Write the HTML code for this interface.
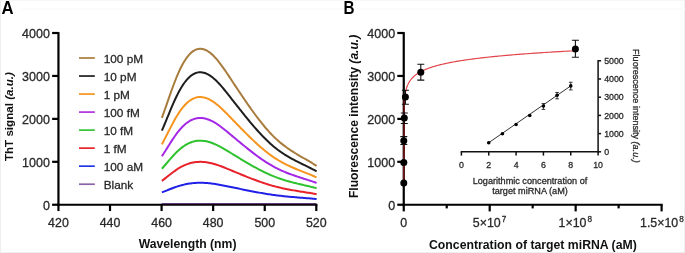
<!DOCTYPE html>
<html><head><meta charset="utf-8"><style>
html,body{margin:0;padding:0;background:#fff;}
body{width:685px;height:253px;overflow:hidden;}
svg{display:block;will-change:transform;}
.t{stroke:#2a2a2a;stroke-width:0.28px;}
</style></head><body>
<svg width="685" height="253" viewBox="0 0 685 253" font-family="Liberation Sans, sans-serif">
<rect x="0" y="0" width="685" height="253" fill="#fff"/>
<rect x="0" y="0" width="1" height="253" fill="#eeeeee"/>
<rect x="684" y="0" width="1" height="253" fill="#eeeeee"/>
<rect x="0" y="252" width="685" height="1" fill="#eeeeee"/>
<rect x="0" y="0" width="685" height="1" fill="#f6f6f6"/>
<rect x="22" y="8" width="663" height="2" fill="#fbfbfb"/>
<polyline points="161.89,117.85 163.19,114.23 164.50,110.54 165.80,106.82 167.11,103.07 168.41,99.31 169.72,95.58 171.02,91.90 172.33,88.27 173.63,84.74 174.94,81.31 176.24,78.00 177.55,74.85 178.85,71.87 180.15,69.07 181.46,66.45 182.76,64.02 184.07,61.78 185.37,59.71 186.67,57.83 187.98,56.12 189.28,54.60 190.58,53.25 191.88,52.09 193.18,51.10 194.49,50.29 195.79,49.65 197.09,49.19 198.39,48.89 199.69,48.75 200.99,48.77 202.29,48.93 203.59,49.24 204.89,49.69 206.19,50.28 207.49,50.99 208.79,51.83 210.09,52.79 211.38,53.86 212.68,55.04 213.98,56.33 215.28,57.71 216.57,59.17 217.87,60.72 219.17,62.35 220.46,64.03 221.76,65.78 223.05,67.58 224.34,69.42 225.64,71.30 226.93,73.21 228.23,75.14 229.52,77.08 230.81,79.03 232.10,80.98 233.39,82.93 234.68,84.88 235.98,86.82 237.27,88.76 238.56,90.70 239.84,92.62 241.13,94.54 242.42,96.45 243.71,98.35 245.00,100.24 246.29,102.12 247.57,103.98 248.86,105.82 250.15,107.65 251.43,109.46 252.72,111.24 254.00,113.01 255.29,114.76 256.57,116.48 257.85,118.18 259.14,119.85 260.42,121.49 261.70,123.11 262.99,124.69 264.27,126.25 265.55,127.77 266.83,129.26 268.11,130.71 269.39,132.13 270.67,133.51 271.95,134.85 273.23,136.16 274.51,137.42 275.79,138.63 277.07,139.81 278.35,140.95 279.62,142.05 280.90,143.11 282.18,144.14 283.46,145.14 284.73,146.11 286.01,147.05 287.29,147.96 288.56,148.85 289.84,149.71 291.12,150.56 292.39,151.38 293.67,152.19 294.94,152.98 296.22,153.76 297.49,154.53 298.77,155.29 300.04,156.04 301.31,156.78 302.59,157.52 303.86,158.26 305.14,158.99 306.41,159.73 307.68,160.47 308.96,161.21 310.23,161.97 311.51,162.73 312.78,163.50 314.05,164.28 315.33,165.08 316.60,165.89" fill="none" stroke="#a87c3c" stroke-width="2" stroke-linejoin="round"/>
<polyline points="161.89,130.68 163.19,127.62 164.50,124.51 165.80,121.35 167.11,118.18 168.41,115.01 169.72,111.86 171.02,108.74 172.33,105.68 173.63,102.69 174.94,99.78 176.24,96.99 177.55,94.32 178.85,91.80 180.15,89.44 181.46,87.23 182.76,85.17 184.07,83.27 185.37,81.52 186.67,79.93 187.98,78.49 189.28,77.20 190.58,76.07 191.88,75.08 193.18,74.24 194.49,73.56 195.79,73.02 197.09,72.63 198.39,72.37 199.69,72.26 200.99,72.27 202.29,72.41 203.59,72.67 204.89,73.06 206.19,73.55 207.49,74.15 208.79,74.86 210.09,75.67 211.38,76.58 212.68,77.58 213.98,78.66 215.28,79.83 216.57,81.07 217.87,82.38 219.17,83.75 220.46,85.18 221.76,86.66 223.05,88.18 224.34,89.74 225.64,91.32 226.93,92.94 228.23,94.57 229.52,96.21 230.81,97.86 232.10,99.51 233.39,101.16 234.68,102.80 235.98,104.45 237.27,106.09 238.56,107.73 239.84,109.36 241.13,110.98 242.42,112.59 243.71,114.20 245.00,115.80 246.29,117.38 247.57,118.95 248.86,120.51 250.15,122.06 251.43,123.59 252.72,125.10 254.00,126.59 255.29,128.07 256.57,129.53 257.85,130.96 259.14,132.37 260.42,133.77 261.70,135.13 262.99,136.47 264.27,137.79 265.55,139.07 266.83,140.33 268.11,141.56 269.39,142.76 270.67,143.93 271.95,145.06 273.23,146.16 274.51,147.23 275.79,148.26 277.07,149.25 278.35,150.21 279.62,151.14 280.90,152.04 282.18,152.91 283.46,153.76 284.73,154.58 286.01,155.37 287.29,156.14 288.56,156.89 289.84,157.63 291.12,158.34 292.39,159.04 293.67,159.72 294.94,160.39 296.22,161.05 297.49,161.70 298.77,162.34 300.04,162.97 301.31,163.60 302.59,164.23 303.86,164.85 305.14,165.47 306.41,166.10 307.68,166.72 308.96,167.35 310.23,167.99 311.51,168.63 312.78,169.28 314.05,169.94 315.33,170.62 316.60,171.30" fill="none" stroke="#1e1e1e" stroke-width="2" stroke-linejoin="round"/>
<polyline points="161.89,144.41 163.19,141.93 164.50,139.40 165.80,136.85 167.11,134.28 168.41,131.70 169.72,129.15 171.02,126.62 172.33,124.13 173.63,121.71 174.94,119.35 176.24,117.09 177.55,114.93 178.85,112.88 180.15,110.96 181.46,109.17 182.76,107.50 184.07,105.96 185.37,104.54 186.67,103.25 187.98,102.08 189.28,101.04 190.58,100.12 191.88,99.32 193.18,98.64 194.49,98.08 195.79,97.65 197.09,97.33 198.39,97.12 199.69,97.03 200.99,97.04 202.29,97.15 203.59,97.37 204.89,97.68 206.19,98.08 207.49,98.57 208.79,99.14 210.09,99.80 211.38,100.53 212.68,101.34 213.98,102.22 215.28,103.17 216.57,104.18 217.87,105.24 219.17,106.35 220.46,107.51 221.76,108.71 223.05,109.94 224.34,111.20 225.64,112.49 226.93,113.80 228.23,115.12 229.52,116.46 230.81,117.79 232.10,119.13 233.39,120.47 234.68,121.80 235.98,123.14 237.27,124.47 238.56,125.79 239.84,127.12 241.13,128.43 242.42,129.74 243.71,131.05 245.00,132.34 246.29,133.62 247.57,134.90 248.86,136.16 250.15,137.42 251.43,138.66 252.72,139.88 254.00,141.10 255.29,142.29 256.57,143.48 257.85,144.64 259.14,145.79 260.42,146.91 261.70,148.02 262.99,149.11 264.27,150.17 265.55,151.22 266.83,152.24 268.11,153.24 269.39,154.21 270.67,155.16 271.95,156.08 273.23,156.97 274.51,157.83 275.79,158.67 277.07,159.47 278.35,160.25 279.62,161.01 280.90,161.74 282.18,162.44 283.46,163.13 284.73,163.79 286.01,164.44 287.29,165.06 288.56,165.67 289.84,166.27 291.12,166.84 292.39,167.41 293.67,167.96 294.94,168.51 296.22,169.04 297.49,169.57 298.77,170.09 300.04,170.60 301.31,171.11 302.59,171.62 303.86,172.12 305.14,172.63 306.41,173.13 307.68,173.64 308.96,174.15 310.23,174.67 311.51,175.19 312.78,175.72 314.05,176.25 315.33,176.80 316.60,177.36" fill="none" stroke="#f7941d" stroke-width="2" stroke-linejoin="round"/>
<polyline points="161.89,156.29 163.19,154.29 164.50,152.24 165.80,150.18 167.11,148.10 168.41,146.02 169.72,143.95 171.02,141.91 172.33,139.90 173.63,137.94 174.94,136.04 176.24,134.21 177.55,132.46 178.85,130.81 180.15,129.26 181.46,127.81 182.76,126.46 184.07,125.21 185.37,124.07 186.67,123.03 187.98,122.08 189.28,121.24 190.58,120.49 191.88,119.85 193.18,119.30 194.49,118.85 195.79,118.50 197.09,118.24 198.39,118.07 199.69,118.00 200.99,118.00 202.29,118.10 203.59,118.27 204.89,118.52 206.19,118.84 207.49,119.24 208.79,119.70 210.09,120.24 211.38,120.83 212.68,121.48 213.98,122.19 215.28,122.96 216.57,123.77 217.87,124.63 219.17,125.53 220.46,126.47 221.76,127.43 223.05,128.43 224.34,129.45 225.64,130.49 226.93,131.55 228.23,132.62 229.52,133.70 230.81,134.78 232.10,135.86 233.39,136.94 234.68,138.02 235.98,139.10 237.27,140.17 238.56,141.24 239.84,142.31 241.13,143.38 242.42,144.43 243.71,145.49 245.00,146.53 246.29,147.57 247.57,148.60 248.86,149.62 250.15,150.64 251.43,151.64 252.72,152.63 254.00,153.61 255.29,154.58 256.57,155.53 257.85,156.47 259.14,157.40 260.42,158.31 261.70,159.21 262.99,160.09 264.27,160.95 265.55,161.79 266.83,162.62 268.11,163.42 269.39,164.21 270.67,164.97 271.95,165.72 273.23,166.44 274.51,167.14 275.79,167.81 277.07,168.46 278.35,169.09 279.62,169.70 280.90,170.29 282.18,170.86 283.46,171.42 284.73,171.95 286.01,172.47 287.29,172.98 288.56,173.47 289.84,173.95 291.12,174.42 292.39,174.88 293.67,175.32 294.94,175.76 296.22,176.20 297.49,176.62 298.77,177.04 300.04,177.46 301.31,177.87 302.59,178.28 303.86,178.69 305.14,179.09 306.41,179.50 307.68,179.91 308.96,180.33 310.23,180.74 311.51,181.16 312.78,181.59 314.05,182.02 315.33,182.47 316.60,182.92" fill="none" stroke="#a428e6" stroke-width="2" stroke-linejoin="round"/>
<polyline points="161.89,168.73 163.19,167.26 164.50,165.77 165.80,164.25 167.11,162.73 168.41,161.21 169.72,159.70 171.02,158.20 172.33,156.73 173.63,155.29 174.94,153.90 176.24,152.56 177.55,151.28 178.85,150.07 180.15,148.93 181.46,147.87 182.76,146.88 184.07,145.97 185.37,145.13 186.67,144.37 187.98,143.68 189.28,143.06 190.58,142.51 191.88,142.04 193.18,141.64 194.49,141.31 195.79,141.05 197.09,140.86 198.39,140.74 199.69,140.68 200.99,140.69 202.29,140.76 203.59,140.88 204.89,141.07 206.19,141.30 207.49,141.59 208.79,141.94 210.09,142.32 211.38,142.76 212.68,143.24 213.98,143.76 215.28,144.32 216.57,144.92 217.87,145.54 219.17,146.20 220.46,146.89 221.76,147.60 223.05,148.33 224.34,149.08 225.64,149.84 226.93,150.61 228.23,151.40 229.52,152.18 230.81,152.98 232.10,153.77 233.39,154.56 234.68,155.35 235.98,156.14 237.27,156.93 238.56,157.71 239.84,158.49 241.13,159.27 242.42,160.05 243.71,160.82 245.00,161.59 246.29,162.35 247.57,163.10 248.86,163.85 250.15,164.59 251.43,165.33 252.72,166.05 254.00,166.77 255.29,167.48 256.57,168.18 257.85,168.87 259.14,169.55 260.42,170.21 261.70,170.87 262.99,171.51 264.27,172.14 265.55,172.76 266.83,173.37 268.11,173.96 269.39,174.53 270.67,175.09 271.95,175.64 273.23,176.16 274.51,176.68 275.79,177.17 277.07,177.65 278.35,178.11 279.62,178.56 280.90,178.99 282.18,179.41 283.46,179.81 284.73,180.20 286.01,180.59 287.29,180.96 288.56,181.32 289.84,181.67 291.12,182.01 292.39,182.35 293.67,182.67 294.94,183.00 296.22,183.31 297.49,183.62 298.77,183.93 300.04,184.24 301.31,184.54 302.59,184.84 303.86,185.14 305.14,185.43 306.41,185.73 307.68,186.03 308.96,186.34 310.23,186.64 311.51,186.95 312.78,187.26 314.05,187.58 315.33,187.90 316.60,188.23" fill="none" stroke="#2ec22e" stroke-width="2" stroke-linejoin="round"/>
<polyline points="161.89,180.90 163.19,179.90 164.50,178.88 165.80,177.85 167.11,176.82 168.41,175.78 169.72,174.76 171.02,173.74 172.33,172.74 173.63,171.76 174.94,170.82 176.24,169.91 177.55,169.04 178.85,168.21 180.15,167.44 181.46,166.72 182.76,166.05 184.07,165.43 185.37,164.86 186.67,164.34 187.98,163.87 189.28,163.45 190.58,163.08 191.88,162.76 193.18,162.49 194.49,162.26 195.79,162.09 197.09,161.96 198.39,161.88 199.69,161.84 200.99,161.84 202.29,161.89 203.59,161.97 204.89,162.10 206.19,162.26 207.49,162.46 208.79,162.69 210.09,162.95 211.38,163.25 212.68,163.57 213.98,163.93 215.28,164.31 216.57,164.71 217.87,165.14 219.17,165.59 220.46,166.05 221.76,166.54 223.05,167.03 224.34,167.54 225.64,168.06 226.93,168.58 228.23,169.12 229.52,169.65 230.81,170.19 232.10,170.73 233.39,171.27 234.68,171.80 235.98,172.34 237.27,172.87 238.56,173.41 239.84,173.94 241.13,174.47 242.42,175.00 243.71,175.52 245.00,176.04 246.29,176.56 247.57,177.07 248.86,177.58 250.15,178.08 251.43,178.58 252.72,179.08 254.00,179.56 255.29,180.04 256.57,180.52 257.85,180.99 259.14,181.45 260.42,181.90 261.70,182.35 262.99,182.79 264.27,183.21 265.55,183.63 266.83,184.04 268.11,184.45 269.39,184.84 270.67,185.22 271.95,185.59 273.23,185.95 274.51,186.29 275.79,186.63 277.07,186.95 278.35,187.27 279.62,187.57 280.90,187.86 282.18,188.15 283.46,188.42 284.73,188.69 286.01,188.95 287.29,189.20 288.56,189.45 289.84,189.69 291.12,189.92 292.39,190.15 293.67,190.37 294.94,190.59 296.22,190.80 297.49,191.01 298.77,191.22 300.04,191.43 301.31,191.64 302.59,191.84 303.86,192.04 305.14,192.25 306.41,192.45 307.68,192.65 308.96,192.86 310.23,193.07 311.51,193.28 312.78,193.49 314.05,193.70 315.33,193.92 316.60,194.15" fill="none" stroke="#e8222a" stroke-width="2" stroke-linejoin="round"/>
<polyline points="161.89,192.36 163.19,191.86 164.50,191.35 165.80,190.84 167.11,190.32 168.41,189.80 169.72,189.28 171.02,188.77 172.33,188.27 173.63,187.78 174.94,187.30 176.24,186.85 177.55,186.41 178.85,186.00 180.15,185.61 181.46,185.25 182.76,184.91 184.07,184.60 185.37,184.31 186.67,184.05 187.98,183.81 189.28,183.60 190.58,183.42 191.88,183.26 193.18,183.12 194.49,183.01 195.79,182.92 197.09,182.85 198.39,182.81 199.69,182.79 200.99,182.80 202.29,182.82 203.59,182.86 204.89,182.92 206.19,183.01 207.49,183.10 208.79,183.22 210.09,183.35 211.38,183.50 212.68,183.67 213.98,183.84 215.28,184.03 216.57,184.24 217.87,184.45 219.17,184.68 220.46,184.91 221.76,185.15 223.05,185.40 224.34,185.66 225.64,185.92 226.93,186.18 228.23,186.45 229.52,186.72 230.81,186.99 232.10,187.26 233.39,187.53 234.68,187.80 235.98,188.07 237.27,188.34 238.56,188.60 239.84,188.87 241.13,189.14 242.42,189.40 243.71,189.66 245.00,189.93 246.29,190.18 247.57,190.44 248.86,190.70 250.15,190.95 251.43,191.20 252.72,191.45 254.00,191.69 255.29,191.94 256.57,192.17 257.85,192.41 259.14,192.64 260.42,192.87 261.70,193.09 262.99,193.31 264.27,193.53 265.55,193.74 266.83,193.94 268.11,194.15 269.39,194.34 270.67,194.53 271.95,194.72 273.23,194.90 274.51,195.07 275.79,195.24 277.07,195.41 278.35,195.56 279.62,195.72 280.90,195.86 282.18,196.01 283.46,196.14 284.73,196.28 286.01,196.41 287.29,196.53 288.56,196.66 289.84,196.78 291.12,196.89 292.39,197.01 293.67,197.12 294.94,197.23 296.22,197.34 297.49,197.44 298.77,197.55 300.04,197.65 301.31,197.76 302.59,197.86 303.86,197.96 305.14,198.06 306.41,198.16 307.68,198.27 308.96,198.37 310.23,198.47 311.51,198.58 312.78,198.69 314.05,198.79 315.33,198.90 316.60,199.02" fill="none" stroke="#2020e6" stroke-width="2" stroke-linejoin="round"/>
<line x1="58.45" y1="32.10" x2="58.45" y2="205.75" stroke="#000" stroke-width="2.2"/>
<line x1="57.35" y1="204.75" x2="317.40" y2="204.75" stroke="#000" stroke-width="2.2"/>
<line x1="52.10" y1="204.75" x2="58.45" y2="204.75" stroke="#000" stroke-width="2.2"/>
<text x="49.85" y="209.95" font-size="12.5" text-anchor="end" fill="#262626" class="t">0</text>
<line x1="52.10" y1="161.81" x2="58.45" y2="161.81" stroke="#000" stroke-width="2.2"/>
<text x="49.85" y="167.01" font-size="12.5" text-anchor="end" fill="#262626" class="t">1000</text>
<line x1="52.10" y1="118.88" x2="58.45" y2="118.88" stroke="#000" stroke-width="2.2"/>
<text x="49.85" y="124.08" font-size="12.5" text-anchor="end" fill="#262626" class="t">2000</text>
<line x1="52.10" y1="75.94" x2="58.45" y2="75.94" stroke="#000" stroke-width="2.2"/>
<text x="49.85" y="81.14" font-size="12.5" text-anchor="end" fill="#262626" class="t">3000</text>
<line x1="52.10" y1="33.00" x2="58.45" y2="33.00" stroke="#000" stroke-width="2.2"/>
<text x="49.85" y="38.20" font-size="12.5" text-anchor="end" fill="#262626" class="t">4000</text>
<line x1="58.45" y1="204.75" x2="58.45" y2="211.05" stroke="#000" stroke-width="2.2"/>
<text x="58.45" y="226.8" font-size="12.4" text-anchor="middle" fill="#262626" class="t">420</text>
<line x1="110.02" y1="204.75" x2="110.02" y2="211.05" stroke="#000" stroke-width="2.2"/>
<text x="110.02" y="226.8" font-size="12.4" text-anchor="middle" fill="#262626" class="t">440</text>
<line x1="161.59" y1="204.75" x2="161.59" y2="211.05" stroke="#000" stroke-width="2.2"/>
<text x="161.59" y="226.8" font-size="12.4" text-anchor="middle" fill="#262626" class="t">460</text>
<line x1="213.16" y1="204.75" x2="213.16" y2="211.05" stroke="#000" stroke-width="2.2"/>
<text x="213.16" y="226.8" font-size="12.4" text-anchor="middle" fill="#262626" class="t">480</text>
<line x1="264.73" y1="204.75" x2="264.73" y2="211.05" stroke="#000" stroke-width="2.2"/>
<text x="264.73" y="226.8" font-size="12.4" text-anchor="middle" fill="#262626" class="t">500</text>
<line x1="316.30" y1="204.75" x2="316.30" y2="211.05" stroke="#000" stroke-width="2.2"/>
<text x="316.30" y="226.8" font-size="12.4" text-anchor="middle" fill="#262626" class="t">520</text>
<line x1="161.6" y1="203.7" x2="316.3" y2="203.7" stroke="#4a1a66" stroke-width="1.0"/>
<text x="187.6" y="248.4" font-size="12.2" font-weight="bold" text-anchor="middle" fill="#111">Wavelength (nm)</text>
<text transform="translate(12.6,116.6) rotate(-90)" font-size="11.6" font-weight="bold" text-anchor="middle" fill="#111">ThT signal <tspan font-style="italic">(a.u.)</tspan></text>
<text transform="translate(1.6,13.7) scale(0.9,1)" font-size="18.6" font-weight="bold" fill="#000">A</text>
<line x1="79" y1="58.00" x2="94.8" y2="58.00" stroke="#a87c3c" stroke-width="1.7"/>
<text x="103.7" y="62.70" font-size="11.8" fill="#262626" class="t">100 pM</text>
<line x1="79" y1="76.03" x2="94.8" y2="76.03" stroke="#1e1e1e" stroke-width="1.7"/>
<text x="103.7" y="80.73" font-size="11.8" fill="#262626" class="t">10 pM</text>
<line x1="79" y1="94.06" x2="94.8" y2="94.06" stroke="#f7941d" stroke-width="1.7"/>
<text x="103.7" y="98.76" font-size="11.8" fill="#262626" class="t">1 pM</text>
<line x1="79" y1="112.09" x2="94.8" y2="112.09" stroke="#b02fe0" stroke-width="1.7"/>
<text x="103.7" y="116.79" font-size="11.8" fill="#262626" class="t">100 fM</text>
<line x1="79" y1="130.12" x2="94.8" y2="130.12" stroke="#35c435" stroke-width="1.7"/>
<text x="103.7" y="134.82" font-size="11.8" fill="#262626" class="t">10 fM</text>
<line x1="79" y1="148.15" x2="94.8" y2="148.15" stroke="#e8262a" stroke-width="1.7"/>
<text x="103.7" y="152.85" font-size="11.8" fill="#262626" class="t">1 fM</text>
<line x1="79" y1="166.18" x2="94.8" y2="166.18" stroke="#2233e6" stroke-width="1.7"/>
<text x="103.7" y="170.88" font-size="11.8" fill="#262626" class="t">100 aM</text>
<line x1="79" y1="184.21" x2="94.8" y2="184.21" stroke="#8a64a8" stroke-width="1.7"/>
<text x="103.7" y="188.91" font-size="11.8" fill="#262626" class="t">Blank</text>
<text transform="translate(343.4,13.9) scale(0.82,1)" font-size="18.6" font-weight="bold" fill="#000">B</text>
<line x1="403.75" y1="32.10" x2="403.75" y2="205.75" stroke="#000" stroke-width="2.2"/>
<line x1="402.65" y1="204.75" x2="662.70" y2="204.75" stroke="#000" stroke-width="2.2"/>
<line x1="397.30" y1="204.75" x2="403.75" y2="204.75" stroke="#000" stroke-width="2.2"/>
<text x="395.15" y="209.95" font-size="12.5" text-anchor="end" fill="#262626" class="t">0</text>
<line x1="397.30" y1="161.81" x2="403.75" y2="161.81" stroke="#000" stroke-width="2.2"/>
<text x="395.15" y="167.01" font-size="12.5" text-anchor="end" fill="#262626" class="t">1000</text>
<line x1="397.30" y1="118.88" x2="403.75" y2="118.88" stroke="#000" stroke-width="2.2"/>
<text x="395.15" y="124.08" font-size="12.5" text-anchor="end" fill="#262626" class="t">2000</text>
<line x1="397.30" y1="75.94" x2="403.75" y2="75.94" stroke="#000" stroke-width="2.2"/>
<text x="395.15" y="81.14" font-size="12.5" text-anchor="end" fill="#262626" class="t">3000</text>
<line x1="397.30" y1="33.00" x2="403.75" y2="33.00" stroke="#000" stroke-width="2.2"/>
<text x="395.15" y="38.20" font-size="12.5" text-anchor="end" fill="#262626" class="t">4000</text>
<line x1="403.75" y1="204.75" x2="403.75" y2="211.40" stroke="#000" stroke-width="2.2"/>
<line x1="446.73" y1="204.75" x2="446.73" y2="208.40" stroke="#000" stroke-width="2.2"/>
<line x1="489.70" y1="204.75" x2="489.70" y2="211.40" stroke="#000" stroke-width="2.2"/>
<line x1="532.67" y1="204.75" x2="532.67" y2="208.40" stroke="#000" stroke-width="2.2"/>
<line x1="575.65" y1="204.75" x2="575.65" y2="211.40" stroke="#000" stroke-width="2.2"/>
<line x1="618.62" y1="204.75" x2="618.62" y2="208.40" stroke="#000" stroke-width="2.2"/>
<line x1="661.60" y1="204.75" x2="661.60" y2="211.40" stroke="#000" stroke-width="2.2"/>
<line x1="403.75" y1="183" x2="404.15" y2="97.01" stroke="#8a1418" stroke-width="1.3"/><polyline points="404.83,97.01 405.47,92.48 405.50,92.34 405.52,92.20 405.55,92.06 405.58,91.92 405.61,91.78 405.64,91.64 405.66,91.50 405.69,91.36 405.72,91.22 405.76,91.08 405.79,90.94 405.82,90.80 405.85,90.67 405.88,90.53 405.92,90.39 405.95,90.25 405.98,90.11 406.02,89.97 406.05,89.83 406.09,89.69 406.13,89.55 406.16,89.41 406.20,89.27 406.24,89.13 406.28,88.99 406.32,88.85 406.36,88.71 406.40,88.57 406.44,88.43 406.48,88.29 406.52,88.15 406.56,88.01 406.61,87.87 406.65,87.73 406.70,87.59 406.74,87.45 406.79,87.31 406.84,87.17 406.88,87.03 406.93,86.89 406.98,86.75 407.03,86.61 407.08,86.47 407.14,86.33 407.19,86.19 407.24,86.05 407.30,85.91 407.35,85.77 407.41,85.63 407.46,85.49 407.52,85.35 407.58,85.21 407.64,85.08 407.70,84.94 407.76,84.80 407.82,84.66 407.89,84.52 407.95,84.38 408.02,84.24 408.08,84.10 408.15,83.96 408.22,83.82 408.29,83.68 408.36,83.54 408.43,83.40 408.50,83.26 408.57,83.12 408.65,82.98 408.73,82.84 408.80,82.70 408.88,82.56 408.96,82.42 409.04,82.28 409.12,82.14 409.21,82.00 409.29,81.86 409.38,81.72 409.46,81.58 409.55,81.44 409.64,81.30 409.74,81.16 409.83,81.02 409.92,80.88 410.02,80.74 410.12,80.60 410.21,80.46 410.31,80.32 410.42,80.18 410.52,80.04 410.63,79.90 410.73,79.76 410.84,79.62 410.95,79.49 411.06,79.35 411.18,79.21 411.29,79.07 411.41,78.93 411.53,78.79 411.65,78.65 411.77,78.51 411.89,78.37 412.02,78.23 412.15,78.09 412.28,77.95 412.41,77.81 412.55,77.67 412.68,77.53 412.82,77.39 412.96,77.25 413.11,77.11 413.25,76.97 413.40,76.83 413.55,76.69 413.70,76.55 413.85,76.41 414.01,76.27 414.17,76.13 414.33,75.99 414.50,75.85 414.66,75.71 414.83,75.57 415.00,75.43 415.18,75.29 415.36,75.15 415.54,75.01 415.72,74.87 415.91,74.73 416.09,74.59 416.29,74.45 416.48,74.31 416.68,74.17 416.88,74.03 417.08,73.89 417.29,73.76 417.50,73.62 417.71,73.48 417.93,73.34 418.15,73.20 418.37,73.06 418.60,72.92 418.83,72.78 419.06,72.64 419.30,72.50 419.54,72.36 419.79,72.22 420.04,72.08 420.29,71.94 420.55,71.80 420.81,71.66 421.07,71.52 421.34,71.38 421.61,71.24 421.89,71.10 422.17,70.96 422.46,70.82 422.75,70.68 423.04,70.54 423.34,70.40 423.65,70.26 423.96,70.12 424.27,69.98 424.59,69.84 424.91,69.70 425.24,69.56 425.58,69.42 425.91,69.28 426.26,69.14 426.61,69.00 426.96,68.86 427.32,68.72 427.69,68.58 428.06,68.44 428.44,68.30 428.82,68.17 429.21,68.03 429.60,67.89 430.01,67.75 430.41,67.61 430.83,67.47 431.25,67.33 431.67,67.19 432.11,67.05 432.55,66.91 432.99,66.77 433.45,66.63 433.91,66.49 434.38,66.35 434.85,66.21 435.34,66.07 435.83,65.93 436.32,65.79 436.83,65.65 437.34,65.51 437.86,65.37 438.39,65.23 438.93,65.09 439.48,64.95 440.03,64.81 440.60,64.67 441.17,64.53 441.75,64.39 442.34,64.25 442.94,64.11 443.54,63.97 444.16,63.83 444.79,63.69 445.43,63.55 446.07,63.41 446.73,63.27 447.40,63.13 448.07,62.99 448.76,62.85 449.46,62.71 450.17,62.57 450.89,62.44 451.62,62.30 452.37,62.16 453.12,62.02 453.89,61.88 454.67,61.74 455.46,61.60 456.26,61.46 457.07,61.32 457.90,61.18 458.74,61.04 459.59,60.90 460.46,60.76 461.34,60.62 462.24,60.48 463.14,60.34 464.07,60.20 465.00,60.06 465.95,59.92 466.92,59.78 467.90,59.64 468.89,59.50 469.90,59.36 470.93,59.22 471.97,59.08 473.03,58.94 474.11,58.80 475.20,58.66 476.31,58.52 477.44,58.38 478.58,58.24 479.74,58.10 480.92,57.96 482.12,57.82 483.33,57.68 484.57,57.54 485.82,57.40 487.10,57.26 488.39,57.12 489.71,56.98 491.04,56.85 492.39,56.71 493.77,56.57 495.17,56.43 496.59,56.29 498.03,56.15 499.49,56.01 500.98,55.87 502.49,55.73 504.02,55.59 505.57,55.45 507.15,55.31 508.76,55.17 510.39,55.03 512.04,54.89 513.73,54.75 515.43,54.61 517.17,54.47 518.93,54.33 520.71,54.19 522.53,54.05 524.37,53.91 526.25,53.77 528.15,53.63 530.08,53.49 532.04,53.35 534.03,53.21 536.05,53.07 538.10,52.93 540.19,52.79 542.31,52.65 544.46,52.51 546.64,52.37 548.86,52.23 551.11,52.09 553.40,51.95 555.72,51.81 558.08,51.67 560.48,51.53 562.91,51.39 565.38,51.26 567.89,51.12 570.44,50.98 573.02,50.84 575.65,50.70" fill="none" stroke="#e2454b" stroke-width="1.2"/>
<text x="403.75" y="226.6" font-size="12.4" text-anchor="middle" fill="#262626" class="t">0</text>
<text x="489.50" y="226.6" font-size="12.4" text-anchor="middle" fill="#262626" class="t">5×10<tspan font-size="8.2" dx="1.0" dy="-4.6">7</tspan></text>
<text x="575.25" y="226.6" font-size="12.4" text-anchor="middle" fill="#262626" class="t">1×10<tspan font-size="8.2" dx="1.0" dy="-4.6">8</tspan></text>
<text x="661.90" y="226.6" font-size="12.4" text-anchor="middle" fill="#262626" class="t">1.5×10<tspan font-size="8.2" dx="1.0" dy="-4.6">8</tspan></text>
<text x="532.9" y="248.5" font-size="12.25" font-weight="bold" text-anchor="middle" fill="#111">Concentration of target miRNA (aM)</text>
<text transform="translate(358.4,116.4) rotate(-90)" font-size="12.1" font-weight="bold" text-anchor="middle" fill="#111">Fluorescence intensity <tspan font-style="italic">(a.u.)</tspan></text>
<circle cx="403.8" cy="183.1" r="3.5" fill="#000"/>
<circle cx="403.8" cy="162.4" r="3.5" fill="#000"/>
<path d="M403.80,136.60V144.50M400.30,136.60H407.30M400.30,144.50H407.30" stroke="#111" stroke-width="1.1" fill="none"/>
<circle cx="403.8" cy="140.8" r="3.5" fill="#000"/>
<path d="M404.30,113.00V123.50M400.80,113.00H407.80M400.80,123.50H407.80" stroke="#111" stroke-width="1.1" fill="none"/>
<circle cx="404.3" cy="118.1" r="3.5" fill="#000"/>
<path d="M405.40,90.20V104.20M401.90,90.20H408.90M401.90,104.20H408.90" stroke="#111" stroke-width="1.1" fill="none"/>
<circle cx="405.4" cy="97.1" r="3.5" fill="#000"/>
<path d="M420.80,64.30V80.10M417.30,64.30H424.30M417.30,80.10H424.30" stroke="#111" stroke-width="1.1" fill="none"/>
<circle cx="420.8" cy="72.2" r="3.5" fill="#000"/>
<path d="M575.40,40.30V57.20M571.90,40.30H578.90M571.90,57.20H578.90" stroke="#111" stroke-width="1.1" fill="none"/>
<circle cx="575.4" cy="49.1" r="3.5" fill="#000"/>
<line x1="460.7" y1="151.8" x2="598.80" y2="151.8" stroke="#111" stroke-width="1.5"/>
<line x1="598.10" y1="60.10" x2="598.10" y2="152.50" stroke="#111" stroke-width="1.5"/>
<line x1="461.40" y1="151.8" x2="461.40" y2="155.60" stroke="#111" stroke-width="1.5"/>
<text x="461.40" y="168" font-size="8.8" text-anchor="middle" fill="#262626" class="t">0</text>
<line x1="488.74" y1="151.8" x2="488.74" y2="155.60" stroke="#111" stroke-width="1.5"/>
<text x="488.74" y="168" font-size="8.8" text-anchor="middle" fill="#262626" class="t">2</text>
<line x1="516.08" y1="151.8" x2="516.08" y2="155.60" stroke="#111" stroke-width="1.5"/>
<text x="516.08" y="168" font-size="8.8" text-anchor="middle" fill="#262626" class="t">4</text>
<line x1="543.42" y1="151.8" x2="543.42" y2="155.60" stroke="#111" stroke-width="1.5"/>
<text x="543.42" y="168" font-size="8.8" text-anchor="middle" fill="#262626" class="t">6</text>
<line x1="570.76" y1="151.8" x2="570.76" y2="155.60" stroke="#111" stroke-width="1.5"/>
<text x="570.76" y="168" font-size="8.8" text-anchor="middle" fill="#262626" class="t">8</text>
<line x1="598.10" y1="151.8" x2="598.10" y2="155.60" stroke="#111" stroke-width="1.5"/>
<text x="598.10" y="168" font-size="8.8" text-anchor="middle" fill="#262626" class="t">10</text>
<line x1="598.10" y1="151.80" x2="601.10" y2="151.80" stroke="#111" stroke-width="1.5"/>
<text x="604.2" y="155.00" font-size="8.8" fill="#262626" class="t">0</text>
<line x1="598.10" y1="133.60" x2="601.10" y2="133.60" stroke="#111" stroke-width="1.5"/>
<text x="604.2" y="136.80" font-size="8.8" fill="#262626" class="t">1000</text>
<line x1="598.10" y1="115.40" x2="601.10" y2="115.40" stroke="#111" stroke-width="1.5"/>
<text x="604.2" y="118.60" font-size="8.8" fill="#262626" class="t">2000</text>
<line x1="598.10" y1="97.20" x2="601.10" y2="97.20" stroke="#111" stroke-width="1.5"/>
<text x="604.2" y="100.40" font-size="8.8" fill="#262626" class="t">3000</text>
<line x1="598.10" y1="79.00" x2="601.10" y2="79.00" stroke="#111" stroke-width="1.5"/>
<text x="604.2" y="82.20" font-size="8.8" fill="#262626" class="t">4000</text>
<line x1="598.10" y1="60.80" x2="601.10" y2="60.80" stroke="#111" stroke-width="1.5"/>
<text x="604.2" y="64.00" font-size="8.8" fill="#262626" class="t">5000</text>
<text x="530" y="183.6" font-size="9.15" text-anchor="middle" fill="#262626" class="t">Logarithmic concentration of</text>
<text x="530" y="194" font-size="9.15" text-anchor="middle" fill="#262626" class="t">target miRNA (aM)</text>
<text transform="translate(632.8,105.9) rotate(90)" font-size="9.05" text-anchor="middle" fill="#262626" class="t">Fluorescence intensity <tspan font-style="italic">(a.u.)</tspan></text>
<line x1="488.74" y1="142.70" x2="570.76" y2="85.90" stroke="#333" stroke-width="1"/>
<circle cx="488.74" cy="142.70" r="1.8" fill="#000"/>
<circle cx="502.41" cy="133.80" r="1.8" fill="#000"/>
<circle cx="516.08" cy="124.50" r="1.8" fill="#000"/>
<circle cx="529.75" cy="115.49" r="1.8" fill="#000"/>
<path d="M543.42,103.57V109.39M541.62,103.57H545.22M541.62,109.39H545.22" stroke="#222" stroke-width="0.9" fill="none"/>
<circle cx="543.42" cy="106.01" r="1.8" fill="#000"/>
<path d="M557.09,92.47V98.84M555.29,92.47H558.89M555.29,98.84H558.89" stroke="#222" stroke-width="0.9" fill="none"/>
<circle cx="557.09" cy="95.31" r="1.8" fill="#000"/>
<path d="M570.76,82.28V89.92M568.96,82.28H572.56M568.96,89.92H572.56" stroke="#222" stroke-width="0.9" fill="none"/>
<circle cx="570.76" cy="85.90" r="1.8" fill="#000"/>
</svg>
</body></html>
